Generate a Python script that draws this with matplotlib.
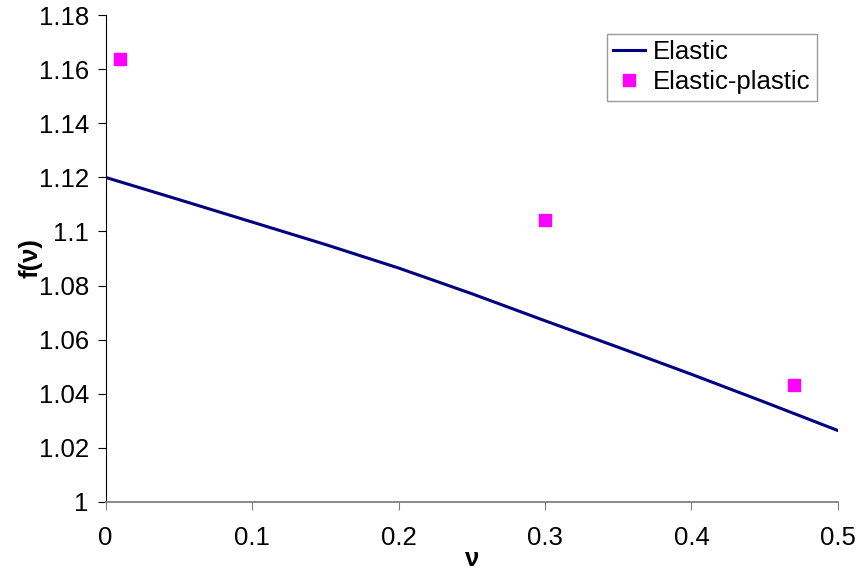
import matplotlib.pyplot as plt

plt.rcParams['font.family'] = ['Liberation Sans', 'DejaVu Sans']

# Elastic solution f(nu)
nu_el = [0.0, 0.05, 0.1, 0.15, 0.2, 0.25, 0.3, 0.35, 0.4, 0.45, 0.5]
f_el = [1.12, 1.1118, 1.1035, 1.0952, 1.0865, 1.0770, 1.0670, 1.0572, 1.0472, 1.0369, 1.0264]

# Elastic-plastic results
nu_ep = [0.01, 0.3, 0.47]
f_ep = [1.1637, 1.1042, 1.0432]

fig = plt.figure(figsize=(8.6, 5.79), dpi=100)
ax = fig.add_axes([0.1227, 0.133, 0.8517, 0.841])

ax.plot(nu_el, f_el, color='#000080', lw=2.2, label='Elastic')
ax.plot(nu_ep, f_ep, 's', color='#FF00FF', ms=8, label='Elastic-plastic', clip_on=False)

ax.set_xlim(0, 0.5)
ax.set_ylim(1, 1.18)
ax.set_xticks([0, 0.1, 0.2, 0.3, 0.4, 0.5])
ax.set_xticklabels(['0', '0.1', '0.2', '0.3', '0.4', '0.5'])
ax.set_yticks([1, 1.02, 1.04, 1.06, 1.08, 1.1, 1.12, 1.14, 1.16, 1.18])
ax.set_yticklabels(['1', '1.02', '1.04', '1.06', '1.08', '1.1', '1.12', '1.14', '1.16', '1.18'])

ax.spines['top'].set_visible(False)
ax.spines['right'].set_visible(False)
ax.spines['left'].set_color('black')
ax.spines['bottom'].set_color('#808080')
ax.spines['bottom'].set_linewidth(1.3)
ax.tick_params(axis='y', direction='out', length=6, color='black', labelsize=18.5, pad=6)
ax.tick_params(axis='x', direction='out', length=6, color='#808080', labelsize=18.5, pad=11)

ax.set_xlabel('ν', fontsize=18.5, fontweight='bold', labelpad=-2)
ax.set_ylabel('f(ν)', fontsize=18.5, fontweight='bold', labelpad=-3)

leg = ax.legend(loc='upper right', bbox_to_anchor=(0.9713, 0.961), fontsize=18.5,
                frameon=True, fancybox=False, edgecolor='#808080', handlelength=1.25,
                handletextpad=0.3, borderpad=0.25, labelspacing=0.22, borderaxespad=0)
leg.get_frame().set_linewidth(1.0)

fig.savefig('out.png', dpi=100)
